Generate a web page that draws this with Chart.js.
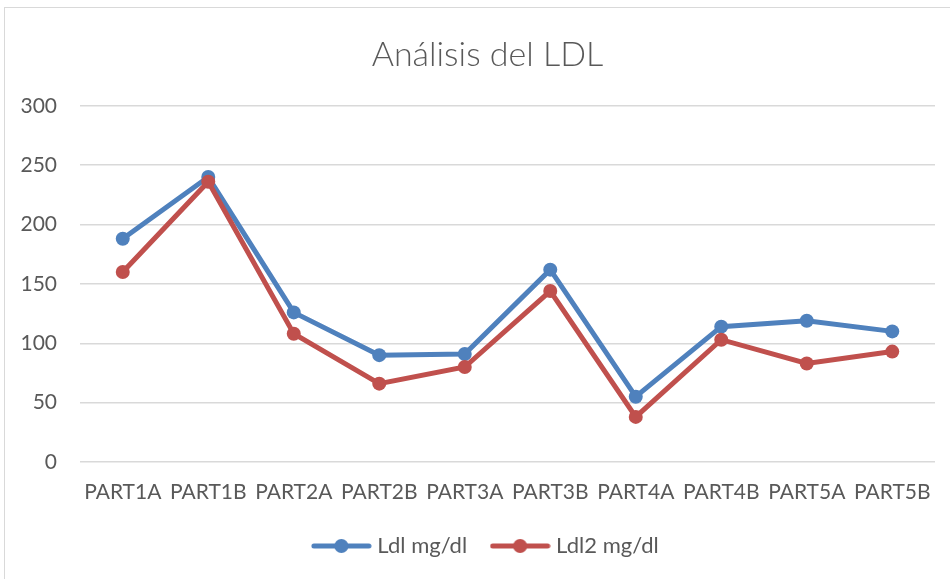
<!DOCTYPE html>
<html>
<head>
<meta charset="utf-8">
<script src="https://cdn.jsdelivr.net/npm/chart.js@4.4.0/dist/chart.umd.min.js"></script>
<style>
  html, body { margin: 0; padding: 0; background: #fff; overflow: hidden; }
  #frame { position: absolute; left: 4px; top: 7px; width: 980px; height: 620px; border: 1px solid #d9d9d9; }
  #wrap { position: absolute; left: 0; top: 0; width: 950px; height: 579px; }
</style>
</head>
<body>
<div id="frame"></div>
<div id="wrap"><canvas id="graphic" width="950" height="579"></canvas></div>
<script>
const categories = ['PART1A', 'PART1B', 'PART2A', 'PART2B', 'PART3A', 'PART3B', 'PART4A', 'PART4B', 'PART5A', 'PART5B'];
const ldl = [188, 240, 126, 90, 91, 162, 55, 114, 119, 110];
const ldl2 = [160, 236, 108, 66, 80, 144, 38, 103, 83, 93];
const seriesNames = ['Ldl mg/dl', 'Ldl2 mg/dl'];
const yTicks = [0, 50, 100, 150, 200, 250, 300];

const blue = '#4f81bd';
const red = '#c0504d';
const textColor = '#595959';

// legend marker: line with a dot in the middle
function legendMarker(color) {
  const c = document.createElement('canvas');
  c.width = 61;
  c.height = 16;
  const ctx = c.getContext('2d');
  ctx.strokeStyle = color;
  ctx.lineWidth = 5;
  ctx.lineCap = 'round';
  ctx.beginPath();
  ctx.moveTo(3, 8);
  ctx.lineTo(58, 8);
  ctx.stroke();
  ctx.fillStyle = color;
  ctx.beginPath();
  ctx.arc(30.5, 8, 7, 0, Math.PI * 2);
  ctx.fill();
  return c;
}

const graphic = document.getElementById('graphic');

const graphicControler = new Chart(graphic, {
  type: 'line',
  data: {
    labels: categories,
    datasets: [
      {
        label: seriesNames[0],
        data: ldl,
        borderColor: blue,
        backgroundColor: blue,
        borderWidth: 5,
        pointRadius: 7,
        pointBackgroundColor: blue,
        pointBorderWidth: 0,
        tension: 0,
        order: 1,
      },
      {
        label: seriesNames[1],
        data: ldl2,
        borderColor: red,
        backgroundColor: red,
        borderWidth: 5,
        pointRadius: 7,
        pointBackgroundColor: red,
        pointBorderWidth: 0,
        tension: 0,
        order: 0,
      },
    ],
  },
  options: {
    responsive: false,
    animation: false,
    events: [],
    layout: { padding: { top: 0, left: 40, right: 15, bottom: 12 } },
    plugins: {
      tooltip: { enabled: false },
      title: {
        display: true,
        text: 'Análisis del LDL',
        color: textColor,
        font: { family: 'Lato', size: 34, weight: '300', lineHeight: 1.2 },
        padding: { top: 35, bottom: 30 },
      },
      legend: {
        position: 'bottom',
        labels: {
          color: textColor,
          font: { family: 'Lato', size: 22 },
          usePointStyle: true,
          pointStyleWidth: 50,
          padding: 28,
          generateLabels: (chart) => chart.data.datasets.map((ds, i) => ({
            text: ds.label,
            fillStyle: ds.borderColor,
            strokeStyle: ds.borderColor,
            lineWidth: 0,
            pointStyle: legendMarker(ds.borderColor),
            fontColor: textColor,
            datasetIndex: i,
          })),
        },
      },
    },
    scales: {
      x: {
        offset: true,
        grid: { display: false, drawTicks: false },
        border: { display: false },
        ticks: {
          color: textColor,
          font: { family: 'Lato', size: 21 },
          padding: 18,
          maxRotation: 0,
          autoSkip: false,
        },
        afterFit: (scale) => { scale.height = 45; },
      },
      y: {
        min: 0,
        max: 300,
        afterBuildTicks: (scale) => { scale.ticks = yTicks.map((v) => ({ value: v })); },
        grid: { color: '#d9d9d9', lineWidth: 1.5, drawTicks: false },
        border: { display: false },
        ticks: {
          color: textColor,
          font: { family: 'Lato', size: 21 },
          padding: 23,
        },
        afterFit: (scale) => {
          scale.width = 40;
          // labels reach into the left padding, so don't clip them
          scale._computeLabelArea = () => undefined;
        },
      },
    },
  },
});
</script>
</body>
</html>
